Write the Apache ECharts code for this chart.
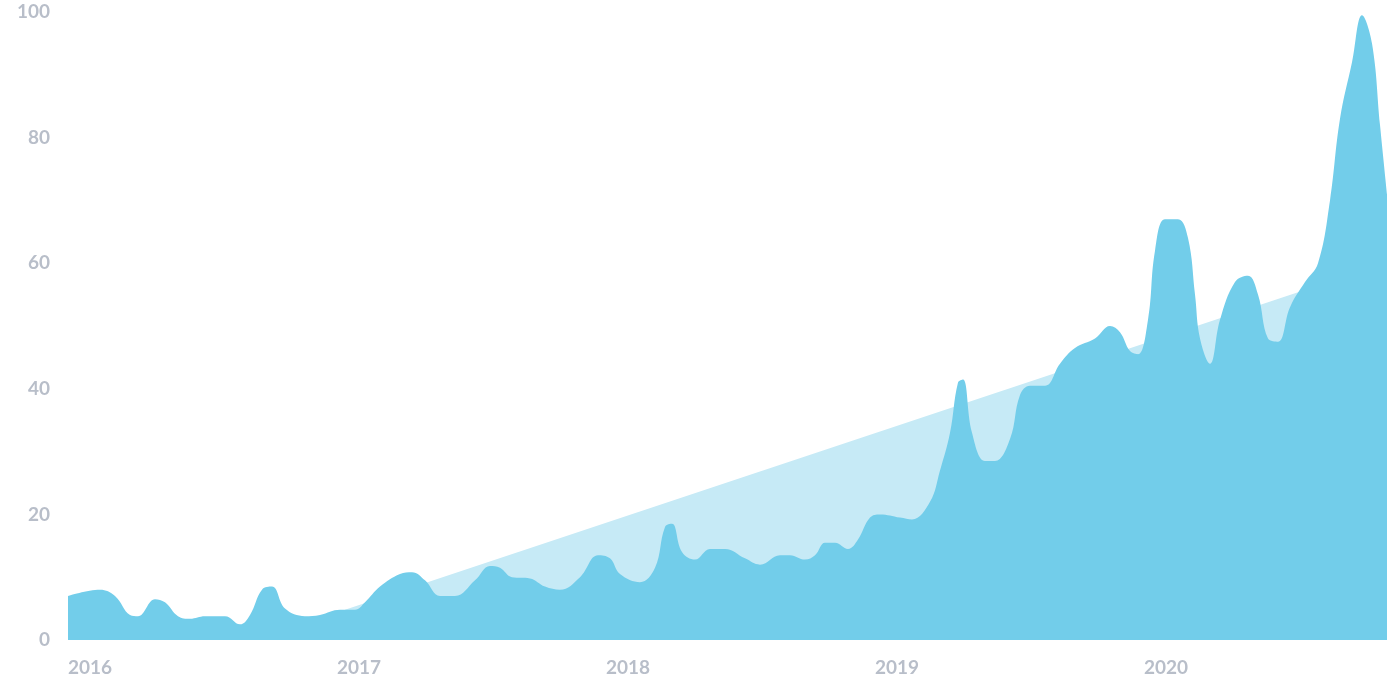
<!DOCTYPE html>
<html><head><meta charset="utf-8">
<script src="https://cdn.jsdelivr.net/npm/echarts@6/dist/echarts.min.js"></script>
<style>html,body{margin:0;padding:0;background:#fff}#c{width:1392px;height:696px}</style>
</head><body><div id="c"></div>
<script>
const pxX=[68,100,115,130,138,155,165,178,190,205,225,240,250,262,272,285,305,320,340,355,365,380,400,412,425,440,455,475,490,500,512,530,545,560,580,598,610,620,640,655,665,672,682,695,710,725,745,760,780,790,805,815,825,835,848,858,870,880,900,912,930,940,950,958,963,972,985,995,1010,1020,1030,1045,1060,1075,1095,1110,1120,1130,1138,1148,1155,1165,1178,1188,1195,1200,1210,1220,1235,1248,1258,1268,1278,1290,1305,1318,1330,1340,1352,1362,1372,1380,1387];
const values=[7,8,7,4,3.8,6.5,6,3.8,3.4,3.8,3.8,2.5,4,8,8.5,5,3.8,4,4.8,4.8,6,8.5,10.5,10.8,9.5,7,7,9.5,11.8,11.5,10,9.8,8.5,8,10,13.5,13,10.5,9.2,11.5,18,18.5,14,12.8,14.5,14.5,13,12,13.5,13.5,12.8,13.5,15.5,15.5,14.5,16,19.5,20,19.5,19.2,22,27,33,41,41.5,33,28.5,28.5,32,39,40.5,40.5,44,46.5,48,50,49,46,45.5,51,62,67,67,64,55,48,44,51,57,58,55,48,47.5,53,57,60,70,83,92,99.5,95,82,71];
const years=pxX.map(x=>2016+(x-90)/269);
const trend=[[2016+(345-90)/269,4.8],[2016+(1310-90)/269,56]];
const xTicks=[2016,2017,2018,2019,2020];
const main=years.map((y,i)=>[y,values[i]]);
const lab={color:'#b8bec9',fontSize:19,fontWeight:'bold',fontFamily:'Lato'};
echarts.init(document.getElementById('c')).setOption({
 animation:false,
 grid:{left:68,right:5,top:12,bottom:56},
 xAxis:{type:'value',min:2016+(68-90)/269,max:2016+(1387-90)/269,
  axisLine:{show:false},axisTick:{show:false},splitLine:{show:false},
  axisLabel:Object.assign({customValues:xTicks,formatter:v=>String(Math.round(v)),margin:18},lab)},
 yAxis:{type:'value',min:0,max:100,interval:20,axisLine:{show:false},axisTick:{show:false},splitLine:{show:false},
  axisLabel:Object.assign({margin:18},lab)},
 series:[
  {type:'line',data:trend,symbol:'none',lineStyle:{width:0},areaStyle:{color:'#c6eaf6',opacity:1},z:1},
  {type:'line',data:main,smooth:0.4,symbol:'none',lineStyle:{width:0},areaStyle:{color:'#72cdea',opacity:1},z:2}
 ]});
</script></body></html>
